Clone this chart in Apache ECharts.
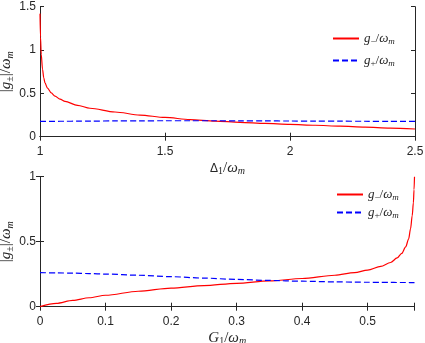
<!DOCTYPE html>
<html>
<head>
<meta charset="utf-8">
<script src="https://cdn.jsdelivr.net/npm/echarts@6/dist/echarts.min.js"></script>
<style>
  html, body { margin: 0; padding: 0; background: #fff; }
  #chart { width: 425px; height: 343px; }
</style>
</head>
<body>
<div id="chart"></div>
<script>
// top panel: Delta1/wm
const deltaX = [1.0, 1.002, 1.005, 1.01, 1.015, 1.02, 1.03, 1.045, 1.06, 1.08, 1.1, 1.15, 1.2, 1.3, 1.4, 1.5, 1.6, 1.7, 1.8, 1.9, 2.0, 2.1, 2.2, 2.3, 2.4, 2.5]
const gMinusTop = [1.42, 1.15, 0.95, 0.78, 0.68, 0.62, 0.56, 0.505, 0.468, 0.433, 0.407, 0.362, 0.328, 0.285, 0.25, 0.222, 0.198, 0.18, 0.166, 0.154, 0.143, 0.132, 0.121, 0.11, 0.1, 0.089]
const gPlusTop = [0.176, 0.176, 0.176, 0.176, 0.176, 0.176, 0.177, 0.177, 0.177, 0.178, 0.178, 0.179, 0.18, 0.182, 0.183, 0.184, 0.184, 0.184, 0.183, 0.182, 0.181, 0.18, 0.179, 0.178, 0.177, 0.176]

// bottom panel: G1/wm
const gX = [0, 0.025, 0.05, 0.075, 0.1, 0.15, 0.2, 0.25, 0.3, 0.35, 0.4, 0.45, 0.48, 0.5, 0.52, 0.535, 0.545, 0.552, 0.558, 0.5625, 0.5655, 0.568, 0.5698, 0.5708, 0.5715]
const gMinusBot = [0, 0.025, 0.048, 0.069, 0.088, 0.119, 0.143, 0.162, 0.18, 0.198, 0.217, 0.242, 0.262, 0.282, 0.31, 0.34, 0.375, 0.41, 0.46, 0.52, 0.6, 0.7, 0.8, 0.9, 1.0]
const gPlusBot = [0.262, 0.26, 0.258, 0.255, 0.251, 0.242, 0.231, 0.22, 0.21, 0.202, 0.196, 0.191, 0.189, 0.188, 0.187, 0.187, 0.186, 0.186, 0.186, 0.186, 0.185, 0.185, 0.185, 0.185, 0.185]

const axisCol = '#262626'
const serif = 'Liberation Serif'
function mkRich (big, small, drop) {
  return {
    i: { fontFamily: serif, fontStyle: 'italic', fontSize: big, color: axisCol },
    r: { fontFamily: serif, fontSize: big, color: axisCol },
    s: { fontFamily: serif, fontStyle: 'italic', fontSize: small, color: axisCol, verticalAlign: 'bottom', padding: [drop, 0, 0, 0] },
    su: { fontFamily: serif, fontSize: small, color: axisCol, verticalAlign: 'bottom', padding: [drop, 0, 0, 0] }
  }
}
const rich = mkRich(15, 10, 7)
const legRich = mkRich(13, 9, 6)

function pairs (xs, ys) {
  return xs.map((x, k) => [x, ys[k]])
}

function mainX (gi, min, max, interval, name) {
  return {
    type: 'value', gridIndex: gi, min: min, max: max, interval: interval,
    axisLine: { lineStyle: { color: axisCol, width: 1 } },
    axisTick: { inside: true, length: 4, lineStyle: { color: axisCol } },
    splitLine: { show: false },
    axisLabel: {
      color: axisCol, fontFamily: 'Liberation Sans', fontSize: 12, margin: 9,
      formatter: v => (Math.abs(v / interval - Math.round(v / interval)) < 1e-6 ? String(+v.toFixed(2)) : '')
    },
    name: name, nameLocation: 'middle', nameGap: 23, nameMoveOverlap: false,
    nameTextStyle: { rich: rich }
  }
}
function boxX (gi, min, max, interval) {
  return {
    type: 'value', gridIndex: gi, min: min, max: max, interval: interval, position: 'top',
    axisLine: { lineStyle: { color: axisCol, width: 1 } },
    axisTick: { inside: true, length: 4, lineStyle: { color: axisCol } },
    axisLabel: { show: false }, splitLine: { show: false }
  }
}
function mainY (gi, max) {
  return {
    type: 'value', gridIndex: gi, min: 0, max: max, interval: 0.5,
    axisLine: { show: true, lineStyle: { color: axisCol, width: 1 } },
    axisTick: { show: true, inside: true, length: 4, lineStyle: { color: axisCol } },
    splitLine: { show: false },
    axisLabel: { color: axisCol, fontFamily: 'Liberation Sans', fontSize: 12, margin: 4 },
    name: '{r||}{i|g}{su|±}{r||/}{i|ω}{s|m}', nameLocation: 'middle', nameGap: 25, nameMoveOverlap: false,
    nameTextStyle: { rich: rich }
  }
}
function boxY (gi, max) {
  return {
    type: 'value', gridIndex: gi, min: 0, max: max, interval: 0.5, position: 'right',
    axisLine: { show: true, lineStyle: { color: axisCol, width: 1 } },
    axisTick: { show: true, inside: true, length: 4, lineStyle: { color: axisCol } },
    axisLabel: { show: false }, splitLine: { show: false }
  }
}

function line (name, xi, yi, data, color, dashed) {
  return {
    name: name, type: 'line', xAxisIndex: xi, yAxisIndex: yi,
    data: data, symbol: 'none', smooth: 0.3, smoothMonotone: 'x',
    lineStyle: { color: color, width: 1.2, type: dashed ? [6, 3] : 'solid' },
    itemStyle: { color: color },
    animation: false
  }
}

const chart = echarts.init(document.getElementById('chart'))
chart.setOption({
  backgroundColor: '#fff',
  animation: false,
  grid: [
    { left: 40, width: 375, top: 6.7, height: 130, containLabel: false, outerBoundsMode: 'none' },
    { left: 40, width: 374.5, top: 176.7, height: 130, containLabel: false, outerBoundsMode: 'none' }
  ],
  xAxis: [
    mainX(0, 1, 2.5, 0.5, 'Δ{su|1}{r|/}{i|ω}{s|m}'),
    boxX(0, 1, 2.5, 0.5),
    mainX(1, 0, 0.5715, 0.1, '{i|G}{su|1}{r|/}{i|ω}{s|m}'),
    boxX(1, 0, 0.5715, 0.1)
  ],
  yAxis: [mainY(0, 1.5), boxY(0, 1.5), mainY(1, 1), boxY(1, 1)],
  legend: [
    {
      data: ['top-', 'top+'], orient: 'vertical', left: 332, top: 32, padding: 0,
      itemWidth: 26, itemHeight: 10, itemGap: 8,
      itemStyle: { opacity: 0 },
      formatter: n => n === 'top-' ? '{i|g}{su|−}{r|/}{i|ω}{s|m}' : '{i|g}{su|+}{r|/}{i|ω}{s|m}',
      textStyle: { rich: legRich }
    },
    {
      data: ['bot-', 'bot+'], orient: 'vertical', left: 336, top: 188, padding: 0,
      itemWidth: 26, itemHeight: 10, itemGap: 4,
      itemStyle: { opacity: 0 },
      formatter: n => n === 'bot-' ? '{i|g}{su|−}{r|/}{i|ω}{s|m}' : '{i|g}{su|+}{r|/}{i|ω}{s|m}',
      textStyle: { rich: legRich }
    }
  ],
  series: [
    line('top-', 0, 0, pairs(deltaX, gMinusTop), '#ff0000', false),
    line('top+', 0, 0, pairs(deltaX, gPlusTop), '#0000ff', true),
    line('bot-', 2, 2, pairs(gX, gMinusBot), '#ff0000', false),
    line('bot+', 2, 2, pairs(gX, gPlusBot), '#0000ff', true)
  ]
})
</script>
</body>
</html>
